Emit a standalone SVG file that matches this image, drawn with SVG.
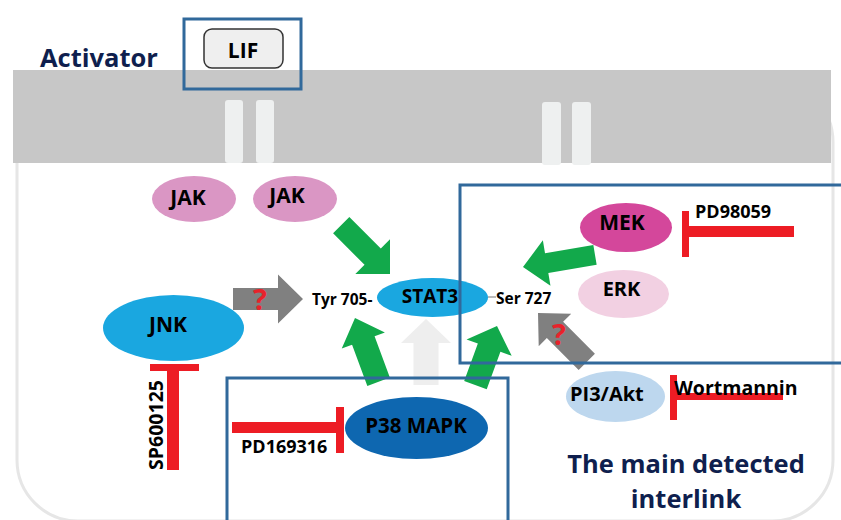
<svg xmlns="http://www.w3.org/2000/svg" width="841" height="520" viewBox="0 0 841 520">
<style>
  .t{font-family:"Open Sans","Liberation Sans",sans-serif;font-weight:bold;fill:#000}
  .mid{text-anchor:middle}
  .navy{fill:#0f1f4e}
  .q{fill:#e8232b}
  .green{fill:#12a94b}
  .gray{fill:#808080}
  .lgray{fill:#eeeeee}
  .red{fill:#ed1c24}
  .box{fill:none;stroke:#31699b;stroke-width:3}
  .chan{fill:#eef0f0}
</style>
<rect width="841" height="520" fill="#ffffff"/>
<!-- cell outline -->
<rect id="cell" x="17" y="81" width="816" height="440" rx="61" fill="#ffffff" stroke="#e6e6e6" stroke-width="3"/>
<!-- membrane -->
<g id="membrane">
  <rect x="13" y="70" width="818" height="93" fill="#c7c7c7"/>
  <rect class="chan" x="225" y="100" width="18" height="63" rx="3"/>
  <rect class="chan" x="256" y="100" width="18" height="63" rx="3"/>
  <rect class="chan" x="542" y="102" width="19" height="63" rx="3"/>
  <rect class="chan" x="572" y="102" width="19" height="63" rx="3"/>
</g>
<g id="activator"><text class="t navy" x="40" y="67" font-size="25.5">Activator</text></g>
<g id="lif">
  <rect x="204" y="29" width="79" height="39" rx="8" fill="#efefef" stroke="#333" stroke-width="1.5"/>
  <text class="t mid" x="243" y="58" font-size="21">LIF</text>
</g>
<!-- connectors -->
<g id="connectors">
  <polygon class="lgray" transform="translate(426,319) rotate(-90)" points="-66,-12.5 -24,-12.5 -24,-25 0,0 -24,25 -24,12.5 -66,12.5"/>
  <polygon class="green" transform="translate(390,274) rotate(45)" points="-69,-11.5 -24.5,-11.5 -24.5,-24.5 0,0 -24.5,24.5 -24.5,11.5 -69,11.5"/>
  <polygon class="green" transform="translate(523,267) rotate(170.5)" points="-73,-10 -24,-10 -24,-23 0,0 -24,23 -24,10 -73,10"/>
  <polygon class="gray" transform="translate(303,299) rotate(0)" points="-70,-11 -25,-11 -25,-24.5 0,0 -25,24.5 -25,11 -70,11"/>
  <polygon class="green" transform="translate(355,318) rotate(-110.3)" points="-68,-12 -24,-12 -24,-23 0,0 -24,23 -24,12 -68,12"/>
  <polygon class="green" transform="translate(497,326) rotate(-70)" points="-63,-12 -23,-12 -23,-24 0,0 -23,24 -23,12 -63,12"/>
  <polygon class="gray" transform="translate(538,313) rotate(-135)" points="-69,-11.5 -24,-11.5 -24,-23 0,0 -24,23 -24,11.5 -69,11.5"/>
  <line x1="488" y1="297" x2="496" y2="297" stroke="#bbbbbb" stroke-width="2"/>
  <!-- inhibition bars -->
  <rect class="red" x="682" y="211" width="7" height="46"/>
  <rect class="red" x="689" y="226" width="105" height="11"/>
  <rect class="red" x="232" y="422" width="104" height="11"/>
  <rect class="red" x="336" y="407" width="8" height="46"/>
  <rect class="red" x="150" y="364" width="49" height="7"/>
  <rect class="red" x="167" y="364" width="12" height="106"/>
  <rect class="red" x="670" y="375" width="7" height="45"/>
  <rect class="red" x="677" y="393" width="106" height="7"/>
</g>
<text class="t q mid" x="260" y="310" font-size="29">?</text>
<text class="t q mid" x="559" y="345" font-size="29">?</text>
<!-- nodes -->
<g id="jak1"><ellipse cx="194" cy="199" rx="42" ry="23" fill="#da96c4"/><text class="t mid" x="188" y="205" font-size="21">JAK</text></g>
<g id="jak2"><ellipse cx="295" cy="199" rx="42" ry="23" fill="#da96c4"/><text class="t mid" x="287" y="203" font-size="21">JAK</text></g>
<g id="stat3"><ellipse cx="432.5" cy="297.5" rx="55.5" ry="19.5" fill="#1aa7e0"/><text class="t mid" x="430" y="303" font-size="19">STAT3</text></g>
<g id="tyr705"><text class="t" x="312" y="305" font-size="15.5">Tyr 705-</text></g>
<g id="ser727"><text class="t" x="496" y="304" font-size="15.5">Ser 727</text></g>
<g id="mek"><ellipse cx="626" cy="227.5" rx="46" ry="24.5" fill="#d4479b"/><text class="t mid" x="622" y="230" font-size="21">MEK</text></g>
<g id="erk"><ellipse cx="623.5" cy="294" rx="45.5" ry="24" fill="#f2d0e2"/><text class="t mid" x="621.5" y="296" font-size="20">ERK</text></g>
<g id="jnk"><ellipse cx="173.5" cy="328" rx="70.5" ry="33" fill="#1aa7e0"/><text class="t mid" x="168" y="332" font-size="21">JNK</text></g>
<g id="p38"><ellipse cx="416.5" cy="428" rx="71.5" ry="31" fill="#0e67b0"/><text class="t mid" x="416" y="433" font-size="20.5">P38 MAPK</text></g>
<g id="pi3akt"><ellipse cx="615.5" cy="396.5" rx="49.5" ry="25.5" fill="#bdd7ee"/><text class="t" x="570" y="401" font-size="20">PI3/Akt</text></g>
<g id="pd98059"><text class="t" x="695" y="218" font-size="18">PD98059</text></g>
<g id="pd169316"><text class="t" x="241" y="453" font-size="18">PD169316</text></g>
<g id="sp600125"><text class="t mid" transform="translate(163,425) rotate(-90)" x="0" y="0" font-size="19.5">SP600125</text></g>
<g id="wortmannin"><text class="t" x="674" y="395" font-size="19.5">Wortmannin</text></g>
<g id="legend">
  <text class="t navy mid" x="686" y="473" font-size="25.5">The main detected</text>
  <text class="t navy mid" x="686" y="508" font-size="25.5">interlink</text>
</g>
<!-- highlight boxes -->
<g id="highlights">
  <rect class="box" x="184" y="19" width="117" height="70"/>
  <rect class="box" x="460" y="185" width="400" height="178"/>
  <rect class="box" x="227" y="378" width="281" height="150"/>
</g>
</svg>
